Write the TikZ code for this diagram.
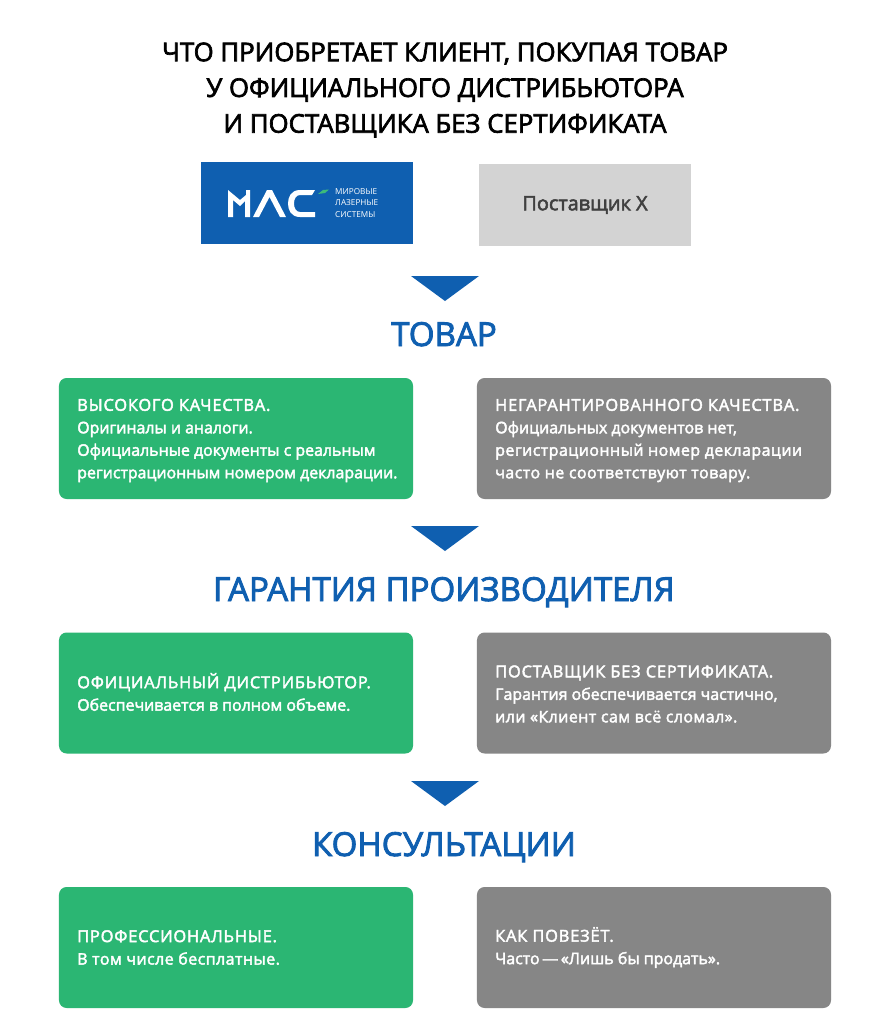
\documentclass[tikz,border=0pt]{standalone}
\usepackage{fontspec}
\usepackage{xcolor}
\setmainfont{Open Sans}
\newfontfamily\medfont[FakeBold=2.6]{Open Sans}
\newfontfamily\capsfont[FakeBold=2.6,LetterSpace=5]{Open Sans}
\newfontfamily\widefont[FakeBold=2.6,LetterSpace=3]{Open Sans}
\newfontfamily\logofont{Open Sans}
\newcommand{\capsline}[1]{{\fontsize{14pt}{19.2pt}\selectfont\capsfont #1}}
\newcommand{\wideline}[1]{{\widefont #1}}
\definecolor{macblue}{HTML}{0F5FB0}
\definecolor{macgreen}{HTML}{2BB673}
\definecolor{leafgreen}{HTML}{3DBB7A}
\definecolor{boxgray}{HTML}{868686}
\definecolor{lightgray}{HTML}{D3D3D3}
\tikzset{
  goodbox/.style={fill=macgreen,rounded corners=6.5pt,minimum width=10.62cm,minimum height=3.63cm},
  badbox/.style={fill=boxgray,rounded corners=6.5pt,minimum width=10.62cm,minimum height=3.63cm},
  boxtext/.style={text=white,align=left,anchor=west,inner sep=0pt,font=\fontsize{13.6pt}{19.2pt}\selectfont\medfont},
  heading/.style={text=macblue,anchor=base,font=\fontsize{28.2pt}{32pt}\selectfont\medfont},
  pointer/.style={fill=macblue}
}
\begin{document}
\begin{tikzpicture}[x=0.03cm, y=-0.03cm]
  \useasboundingbox (0,0) rectangle (889,1024);
  \fill[white] (0,0) rectangle (889,1024);
  % --- title ---------------------------------------------------------
  \node[align=center,font=\fontsize{22pt}{30.5pt}\selectfont\medfont] (title) at (445,90)
       {ЧТО ПРИОБРЕТАЕТ КЛИЕНТ, ПОКУПАЯ ТОВАР\\У ОФИЦИАЛЬНОГО ДИСТРИБЬЮТОРА\\И ПОСТАВЩИКА БЕЗ СЕРТИФИКАТА};
  % --- logos ---------------------------------------------------------
  \fill[macblue] (200.5,162) rectangle (412.5,244);
  \fill[white] (228,190) -- (240,200) -- (246,195) -- (246,190) -- (250,190) -- (250,217) -- (245,217) -- (245,201) -- (240,206) -- (233,200) -- (233,217) -- (228,217) -- cycle;
  \fill[white] (253,217) -- (267,190) -- (272,190) -- (286,217) -- (280,217) -- (269.5,197) -- (259,217) -- cycle;
  \fill[white] (315,190) -- (300,190) .. controls (291,190) and (288,197) .. (288,203.5) .. controls (288,210) and (291,217) .. (300,217) -- (315,217) -- (315,212) -- (300,212) .. controls (296,212) and (294,208) .. (294,203.5) .. controls (294,199) and (296,195) .. (300,195) -- (312,195) -- cycle;
  \fill[leafgreen] (318,194) -- (323,190) -- (329,189.5) -- (325,193) -- cycle;
  \node[text=white,align=left,anchor=west,inner sep=0pt,font=\fontsize{7pt}{9.6pt}\selectfont\logofont] (logotext) at (335,203)
       {МИРОВЫЕ\\ЛАЗЕРНЫЕ\\СИСТЕМЫ};
  \node[fill=lightgray,minimum width=6.36cm,minimum height=2.46cm,inner sep=0pt,text=black!75,
        font=\fontsize{17pt}{18pt}\selectfont\medfont] (other) at (585,205) {Поставщик X};
  % --- sections ------------------------------------------------------
  \foreach \ya/\yh/\name in {276/346/ТОВАР,526/601/ГАРАНТИЯ ПРОИЗВОДИТЕЛЯ,781/856/КОНСУЛЬТАЦИИ}{
    \fill[pointer] (411,\ya) -- (479,\ya) -- (445,\ya+25) -- cycle;
    \node[heading] at (444,\yh) {\name};
  }
  % --- boxes ---------------------------------------------------------
  \node[goodbox] (quality) at (236,438.5) {};
  \node[badbox] (noquality) at (654,438.5) {};
  \node[goodbox] (warranty) at (236,693) {};
  \node[badbox] (nowarranty) at (654,693) {};
  \node[goodbox] (consult) at (236,947.5) {};
  \node[badbox] (noconsult) at (654,947.5) {};
  \node[boxtext] (qualitytext) at (77,440.5) {\capsline{ВЫСОКОГО КАЧЕСТВА.}\\Оригиналы и аналоги.\\Официальные документы с реальным\\регистрационным номером декларации.};
  \node[boxtext] (noqualitytext) at (495,440.5) {\capsline{НЕГАРАНТИРОВАННОГО КАЧЕСТВА.}\\Официальных документов нет,\\\wideline{регистрационный номер декларации}\\\wideline{часто не соответствуют товару.}};
  \node[boxtext] (warrantytext) at (77,692) {\capsline{ОФИЦИАЛЬНЫЙ ДИСТРИБЬЮТОР.}\\Обеспечивается в полном объеме.};
  \node[boxtext] (nowarrantytext) at (495,694) {\capsline{ПОСТАВЩИК БЕЗ СЕРТИФИКАТА.}\\Гарантия обеспечивается частично,\\\wideline{или «Клиент сам всё сломал».}};
  \node[boxtext] (consulttext) at (77,947.5) {\capsline{ПРОФЕССИОНАЛЬНЫЕ.}\\\wideline{В том числе бесплатные.}};
  \node[boxtext] (noconsulttext) at (495,947.5) {\capsline{КАК ПОВЕЗЁТ.}\\Часто\,—\,«Лишь бы продать».};
\end{tikzpicture}
\end{document}
